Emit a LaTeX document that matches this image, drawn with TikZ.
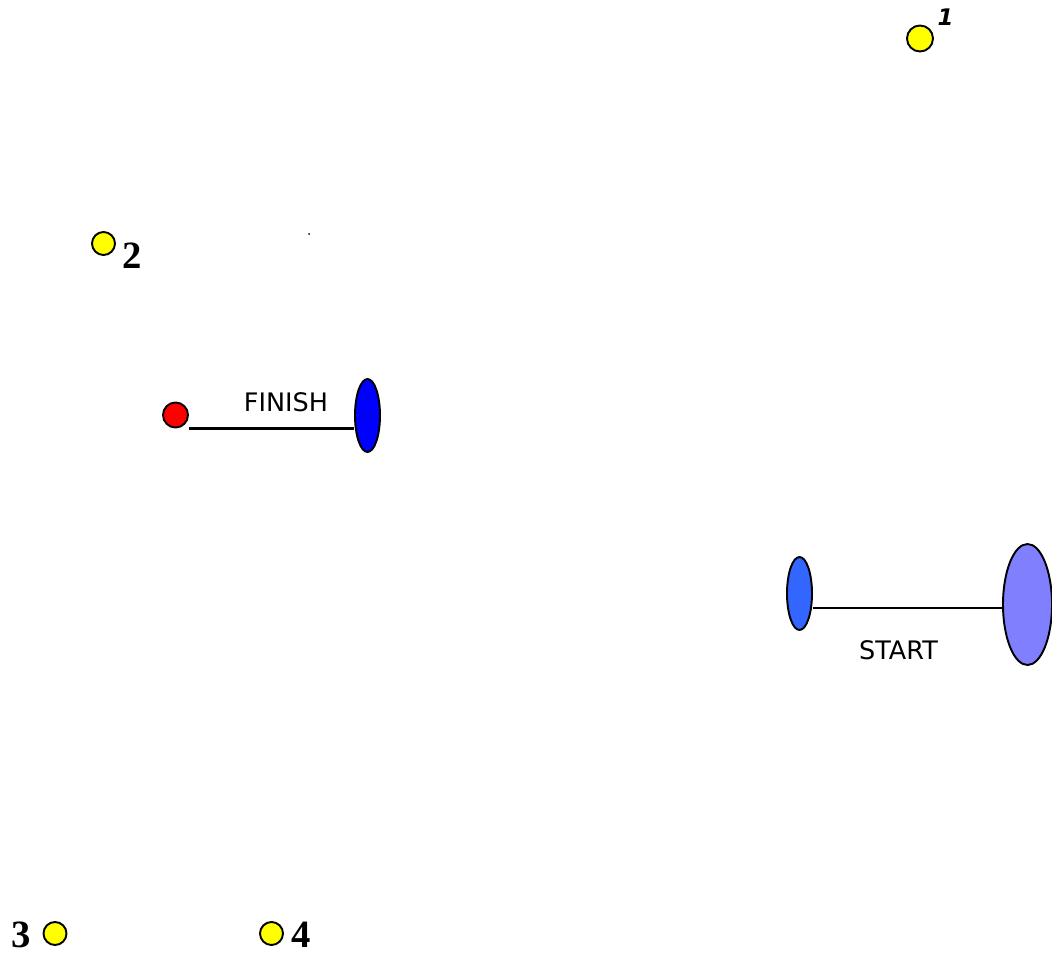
\documentclass[tikz,border=0pt]{standalone}
\usepackage{fontspec}
\setmainfont{Liberation Serif}
\newfontfamily\tahomaish{DejaVu Sans}
\usepackage{xcolor}
\definecolor{buoyyellow}{RGB}{255,255,0}
\definecolor{finishred}{RGB}{255,0,0}
\definecolor{finishblue}{RGB}{0,0,255}
\definecolor{startblue}{RGB}{51,102,255}
\definecolor{startlilac}{RGB}{128,128,255}
\usetikzlibrary{shapes.geometric}

\tikzset{
  buoy/.style={circle, draw=black, line width=1.1pt, fill=buoyyellow,
               minimum size=23*0.02cm, inner sep=0pt},
  buoynum/.style={font=\fontsize{22}{22}\selectfont\bfseries, inner sep=0pt},
  pin/.style={ellipse, draw=black, line width=1.1pt, inner sep=0pt},
  linetext/.style={font=\tahomaish\fontsize{14.5}{15}\selectfont, inner sep=0pt}
}

\begin{document}
\begin{tikzpicture}[x=0.02cm, y=-0.02cm]
\useasboundingbox (0,0) rectangle (1052,953);

% === Buoy 1 (top-right) ===
\node[buoy, minimum size=26*0.02cm] (wp1) at (920,38.5) {};
\node[inner sep=0pt, font=\tahomaish\fontsize{13}{13}\selectfont\bfseries\itshape]
     (lab1) at (945.5,17.5) {1};

% === Buoy 2 (left) ===
\node[buoy] (wp2) at (103.5,243.5) {};
\node[buoynum] (lab2) at (132,256) {2};
\fill[black] (309,234) circle (1);

% === Finish line ===
\node[circle, draw=black, line width=1.1pt, fill=finishred,
      minimum size=25*0.02cm, inner sep=0pt] (fred) at (175.5,415) {};
\node[pin, fill=finishblue, minimum width=25*0.02cm,
      minimum height=73*0.02cm] (fblue) at (367.5,415.5) {};
\draw[line width=1.2pt] (fred.east |- fred.south) -- (fblue.west |- fred.south);
\node[linetext] (finish) at (286,402) {FINISH};

% === Start line ===
\node[pin, fill=startblue, minimum width=25*0.02cm,
      minimum height=73*0.02cm] (sleft) at (799.5,593.5) {};
\node[pin, fill=startlilac, minimum width=49*0.02cm,
      minimum height=121*0.02cm] (sright) at (1027.5,604.5) {};
\draw[line width=1.2pt] ([yshift=-3.5*0.02cm]sleft.east |- sright.center)
     -- ([yshift=-3.5*0.02cm]sright.west);
\node[linetext] (start) at (898.5,650) {START};

% === Buoys 3 and 4 (bottom) ===
\node[buoy] (wp3) at (55,933.5) {};
\node[buoynum] (lab3) at (21,935) {3};
\node[buoy] (wp4) at (271.5,933.5) {};
\node[buoynum] (lab4) at (301,935) {4};

\end{tikzpicture}
\end{document}
